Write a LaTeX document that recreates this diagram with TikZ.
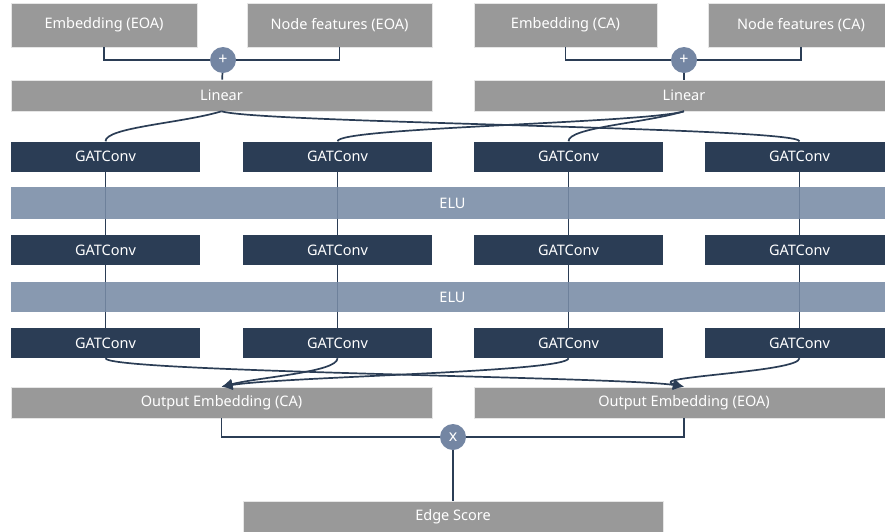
\documentclass[tikz,border=0pt]{standalone}
\usepackage{fontspec}
\setmainfont{Noto Sans}
\usetikzlibrary{positioning,arrows.meta,calc}
\definecolor{inputC}{RGB}{153,153,153}
\definecolor{convC}{RGB}{43,61,85}
\definecolor{eluC}{RGB}{120,139,165}
\definecolor{opC}{RGB}{116,134,163}
\definecolor{wireC}{RGB}{43,61,85}
\tikzset{
	layer/.style={minimum height=31pt, inner sep=0pt, text=white,
		font=\fontsize{14.5}{16}\selectfont},
	graybox/.style={layer, fill=inputC, draw=white!75!inputC, line width=0.6pt},
	conv/.style={layer, fill=convC, minimum width=189pt, minimum height=30pt},
	elu/.style={layer, fill=eluC, fill opacity=0.88, text opacity=1,
		minimum width=883pt},
	op/.style={circle, fill=opC, minimum size=26pt, inner sep=0pt, text=white,
		font=\fontsize{16}{16}\selectfont\bfseries},
	wire/.style={draw=wireC, line width=1.7pt},
	feed/.style={wire, -{Latex[length=11pt,width=11pt]}},
}
\begin{document}
\begin{tikzpicture}[x=1pt, y=-1pt]
	\useasboundingbox (0,0) rectangle (885,531);
	\clip (0,0) rectangle (885,531);
	
	% ================= Inputs =================
	\node[graybox, minimum width=186pt, minimum height=44pt] (embE) at (104,25) {Embedding (EOA)};
	\node[graybox, minimum width=185pt, minimum height=44pt] (featE) at (339.5,25) {Node features (EOA)};
	\node[graybox, minimum width=183pt, minimum height=44pt] (embC) at (565.5,25) {Embedding (CA)};
	\node[graybox, minimum width=186pt, minimum height=44pt] (featC) at (801,25) {Node features (CA)};
	
	\node[op] (plusE) at (223,60) {+};
	\node[op] (plusC) at (684,60) {+};
	
	\node[graybox, minimum width=421pt] (linE) at (221.5,95.5) {Linear};
	\node[graybox, minimum width=420pt] (linC) at (684,95.5) {Linear};
	
	\draw[wire] (embE.south) |- (plusE.west);
	\draw[wire] (featE.south) |- (plusE.east);
	\draw[wire] (plusE) -- (linE);
	\draw[wire] (embC.south) |- (plusC.west);
	\draw[wire] (featC.south) |- (plusC.east);
	\draw[wire] (plusC) -- (linC);
	
	% ================= GATConv stacks =================
	\foreach \i/\x in {1/105.5,2/337.5,3/568.5,4/799.5}{
		\node[conv] (conv1\i) at (\x,156.5) {GATConv};
		\node[conv] (conv2\i) at (\x,250) {GATConv};
		\node[conv] (conv3\i) at (\x,343) {GATConv};
		\draw[wire] (conv1\i) -- (conv2\i);
		\draw[wire] (conv2\i) -- (conv3\i);
	}
	
	\node[elu, minimum height=32pt] (elu1) at (452.5,203) {ELU};
	\node[elu, minimum height=30pt] (elu2) at (452.5,297) {ELU};
	
	% Linear layers into the first GATConv row
	\draw[wire] (linE.south) .. controls +(-40,12) and +(0,-14) .. (conv11.north);
	\draw[wire] (linE.south) .. controls +(40,12) and +(0,-14) .. (conv14.north);
	\draw[wire] (linC.south) .. controls +(-40,12) and +(0,-14) .. (conv12.north);
	\draw[wire] (linC.south) .. controls +(-40,12) and +(0,-14) .. (conv13.north);
	
	% ================= Outputs =================
	\node[graybox, minimum width=421pt] (outC) at (221.5,402.5) {Output Embedding (CA)};
	\node[graybox, minimum width=420pt] (outE) at (684,402.5) {Output Embedding (EOA)};
	
	\draw[feed] (conv32.south) .. controls +(0,14) and +(40,-10) .. (outC.north);
	\draw[feed] (conv33.south) .. controls +(0,14) and +(60,-10) .. (outC.north);
	\draw[feed] (conv31.south) .. controls +(0,14) and +(-60,-10) .. (outE.north);
	\draw[feed] (conv34.south) .. controls +(0,14) and +(-40,-10) .. (outE.north);
	
	\node[op] (mul) at (453,437) {x};
	\node[graybox, minimum width=420pt] (score) at (453,516.5) {Edge Score};
	
	\draw[wire] (outC.south) |- (mul.west);
	\draw[wire] (outE.south) |- (mul.east);
	\draw[wire] (mul) -- (score);
	
\end{tikzpicture}
\end{document}
